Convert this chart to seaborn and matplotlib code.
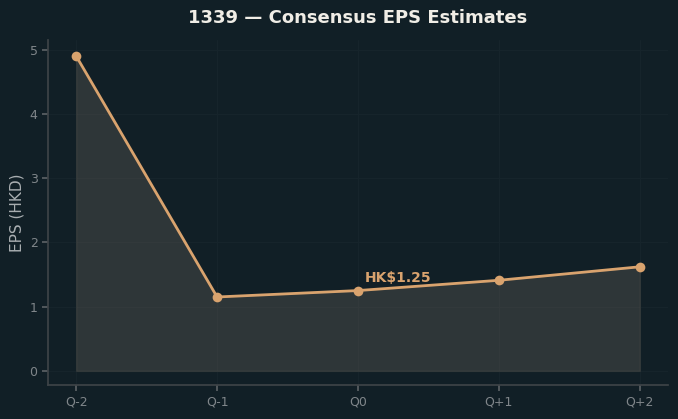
import matplotlib
matplotlib.use("Agg")
import matplotlib.pyplot as plt
import seaborn as sns
import pandas as pd

quarters = ["Q-2", "Q-1", "Q0", "Q+1", "Q+2"]
eps = [4.90, 1.15, 1.25, 1.41, 1.62]
title = "1339 — Consensus EPS Estimates"
ylabel = "EPS (HKD)"
annot = "HK$1.25"

bg = "#111f26"
line_c = "#d9a36e"
sns.set_theme(style="dark")
plt.rcParams['font.family'] = ['DejaVu Sans']

df = pd.DataFrame({"q": quarters, "eps": eps, "x": range(len(quarters))})

fig = plt.figure(figsize=(6.78, 4.19), dpi=100, facecolor=bg)
ax = fig.add_axes([48/678, 1-385/419, 620/678, 345/419])
ax.set_facecolor(bg)
ax.fill_between(df["x"], df["eps"], 0, color="#67615a", alpha=0.35,
                edgecolor="#55544c", linewidth=1, zorder=1)
sns.lineplot(data=df, x="x", y="eps", ax=ax, color=line_c, linewidth=2,
             marker="o", markersize=7, markeredgewidth=0, zorder=3)
ax.annotate(annot, (2, eps[2]), xytext=(5, 6), textcoords="offset points",
            color=line_c, fontsize=10, fontweight="bold")
ax.set_xticks(df["x"])
ax.set_xticklabels(quarters)
ax.set_xlim(-0.2, 4.2)
ax.set_ylim(-0.22, 5.15)
ax.set_yticks([0, 1, 2, 3, 4, 5])
ax.set_xlabel("")
ax.set_ylabel(ylabel, color="#a9aeb1", fontsize=11)
ax.set_title(title, color="#f0ede6", fontsize=13, fontweight="bold", pad=12)
ax.tick_params(colors="#80868a", labelsize=9, length=4, color="#5a6064",
               bottom=True, left=True)
ax.grid(True, color="#16242b", linewidth=0.8)
for s in ["left", "bottom"]:
    ax.spines[s].set_color("#3d4347")
    ax.spines[s].set_visible(True)
for s in ["top", "right"]:
    ax.spines[s].set_visible(False)
fig.savefig("out.png", dpi=100, facecolor=bg)
